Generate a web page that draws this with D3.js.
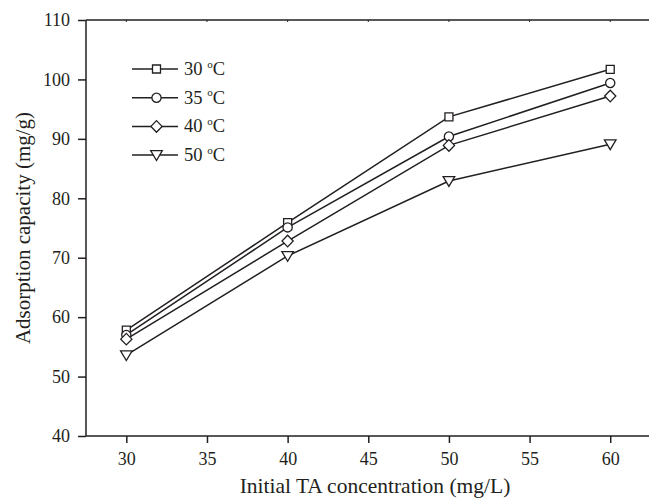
<!DOCTYPE html>
<html>
<head>
<meta charset="utf-8">
<script src="https://cdn.jsdelivr.net/npm/d3@7"></script>
<style>
  body { margin: 0; background: #fff; }
  svg { display: block; }
</style>
</head>
<body>
<svg id="chart"></svg>
<script>
// data
const concentrations = [30, 40, 50, 60];
const temperatures = ['30', '35', '40', '50'];
const cap30 = [57.8, 75.9, 93.7, 101.7];
const cap35 = [57.0, 75.1, 90.4, 99.4];
const cap40 = [56.3, 72.8, 88.9, 97.2];
const cap50 = [53.6, 70.3, 82.9, 89.1];
const xTicks = [30, 35, 40, 45, 50, 55, 60];
const yTicks = [40, 50, 60, 70, 80, 90, 100, 110];

const series = [
    {temp: temperatures[0], values: cap30, marker: 'square'},
    {temp: temperatures[1], values: cap35, marker: 'circle'},
    {temp: temperatures[2], values: cap40, marker: 'diamond'},
    {temp: temperatures[3], values: cap50, marker: 'triangle'}
];

const width = 649, height = 500;
const ink = '#231f20';
const font = '"Liberation Serif", "Times New Roman", serif';

const svg = d3.select('#chart')
    .attr('width', width)
    .attr('height', height);

const plotLeft = 86, plotTop = 20, plotBottom = 436;

const x = d3.scaleLinear().domain([27.5, 62.5]).range([plotLeft, plotLeft + 35 * 16.13]);
const y = d3.scaleLinear().domain([40, 110]).range([plotBottom, plotTop]);

// frame lines (left, bottom, top) - the right side runs off the picture
svg.append('line')
    .attr('x1', plotLeft).attr('x2', plotLeft)
    .attr('y1', plotTop).attr('y2', plotBottom)
    .attr('stroke', ink).attr('stroke-width', 1.5);
svg.append('line')
    .attr('x1', plotLeft).attr('x2', width)
    .attr('y1', plotBottom).attr('y2', plotBottom)
    .attr('stroke', ink).attr('stroke-width', 1.5);
svg.append('line')
    .attr('x1', plotLeft).attr('x2', width)
    .attr('y1', plotTop).attr('y2', plotTop)
    .attr('stroke', ink).attr('stroke-width', 1.5);

// small inward ticks along the top border
svg.selectAll('.top-tick')
    .data(xTicks)
    .join('line')
    .attr('class', 'top-tick')
    .attr('x1', d => x(d)).attr('x2', d => x(d))
    .attr('y1', plotTop).attr('y2', plotTop + 2)
    .attr('stroke', ink).attr('stroke-width', 1);

// x axis
const xAxis = svg.append('g')
    .attr('transform', `translate(0, ${plotBottom})`)
    .call(d3.axisBottom(x).tickValues(xTicks).tickSize(7).tickPadding(9).tickFormat(d3.format('d')));
xAxis.select('.domain').remove();
xAxis.selectAll('line').attr('stroke', ink).attr('stroke-width', 1.5);
xAxis.selectAll('text')
    .attr('font-family', font)
    .attr('font-size', '18px')
    .attr('fill', ink);

// y axis
const yAxis = svg.append('g')
    .attr('transform', `translate(${plotLeft}, 0)`)
    .call(d3.axisLeft(y).tickValues(yTicks).tickSize(8).tickPadding(8).tickFormat(d3.format('d')));
yAxis.select('.domain').remove();
yAxis.selectAll('line').attr('stroke', ink).attr('stroke-width', 1.5);
yAxis.selectAll('text')
    .attr('font-family', font)
    .attr('font-size', '18px')
    .attr('fill', ink);

// axis titles
svg.append('text')
    .attr('x', 375)
    .attr('y', 493)
    .attr('text-anchor', 'middle')
    .attr('font-family', font)
    .attr('font-size', '21.5px')
    .attr('fill', ink)
    .text('Initial TA concentration (mg/L)');

svg.append('text')
    .attr('transform', `translate(30, ${(plotTop + plotBottom) / 2}) rotate(-90)`)
    .attr('text-anchor', 'middle')
    .attr('font-family', font)
    .attr('font-size', '21px')
    .attr('fill', ink)
    .text('Adsorption capacity (mg/g)');

// marker shapes
function markerPath(type) {
    switch (type) {
        case 'square': return 'M-4,-4H4V4H-4Z';
        case 'circle': return 'M4.6,0A4.6,4.6 0 1 1 -4.6,0A4.6,4.6 0 1 1 4.6,0Z';
        case 'diamond': return 'M0,-5.8L5.6,0L0,5.8L-5.6,0Z';
        case 'triangle': return 'M-5.8,-4.4H5.8L0,5.4Z';
    }
}

const line = d3.line()
    .x((d, i) => x(concentrations[i]))
    .y(d => y(d));

const plot = svg.append('g');

series.forEach(s => {
    plot.append('path')
        .datum(s.values)
        .attr('d', line)
        .attr('fill', 'none')
        .attr('stroke', ink)
        .attr('stroke-width', 1.5);
});

series.forEach(s => {
    plot.selectAll(null)
        .data(s.values)
        .join('path')
        .attr('transform', (d, i) => `translate(${x(concentrations[i])}, ${y(d)})`)
        .attr('d', markerPath(s.marker))
        .attr('fill', '#fff')
        .attr('stroke', ink)
        .attr('stroke-width', 1.3);
});

// legend
const legend = svg.append('g');
series.forEach((s, i) => {
    const ly = 69 + i * 28.7;
    legend.append('line')
        .attr('x1', 132).attr('x2', 178)
        .attr('y1', ly).attr('y2', ly)
        .attr('stroke', ink).attr('stroke-width', 1.5);
    legend.append('path')
        .attr('transform', `translate(156.5, ${ly})`)
        .attr('d', markerPath(s.marker))
        .attr('fill', '#fff')
        .attr('stroke', ink)
        .attr('stroke-width', 1.3);
    const t = legend.append('text')
        .attr('x', 184)
        .attr('y', ly + 6)
        .attr('font-family', font)
        .attr('font-size', '18.5px')
        .attr('fill', ink);
    t.append('tspan').text(`${s.temp} `);
    t.append('tspan').attr('dy', -7.5).attr('font-size', '11px').text('o');
    t.append('tspan').attr('dy', 7.5).text('C');
});
</script>
</body>
</html>
